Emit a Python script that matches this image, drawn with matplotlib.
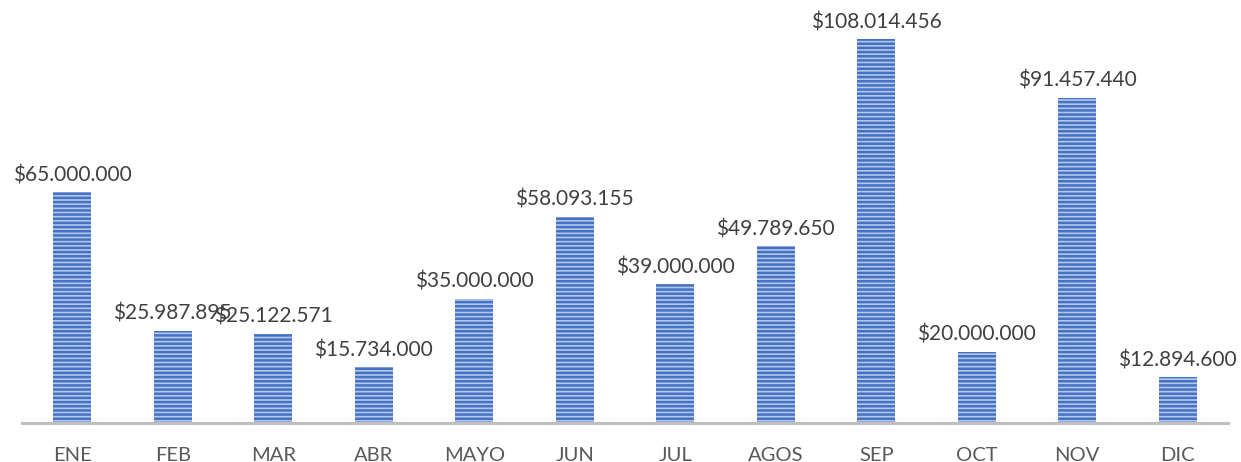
import matplotlib.pyplot as plt
import matplotlib as mpl

meses = ['ENE', 'FEB', 'MAR', 'ABR', 'MAYO', 'JUN', 'JUL', 'AGOS', 'SEP', 'OCT', 'NOV', 'DIC']
valores = [65000000, 25987895, 25122571, 15734000, 35000000, 58093155,
           39000000, 49789650, 108014456, 20000000, 91457440, 12894600]
etiquetas = ['$65.000.000', '$25.987.895', '$25.122.571', '$15.734.000', '$35.000.000',
             '$58.093.155', '$39.000.000', '$49.789.650', '$108.014.456', '$20.000.000',
             '$91.457.440', '$12.894.600']

mpl.rcParams['hatch.linewidth'] = 1.8
mpl.rcParams['hatch.color'] = '#4472C4'
plt.rcParams['font.family'] = ['Lato', 'DejaVu Sans']

fig = plt.figure(figsize=(12.41, 4.62), dpi=100)
ax = fig.add_axes([22 / 1241, 39 / 462, 1206 / 1241, 423 / 462])

x = range(len(meses))
bars = ax.bar(x, valores, width=0.38, color='#b4c7ea', edgecolor='#4472C4',
              hatch='----', linewidth=0)

for b, t in zip(bars, etiquetas):
    ax.annotate(t, (b.get_x() + b.get_width() / 2, b.get_height()),
                xytext=(0, 5), textcoords='offset points', ha='center', va='bottom',
                fontsize=15, color='#404040')

ax.set_xlim(-0.5, len(meses) - 0.5)
ax.set_ylim(0, 119e6)
ax.set_xticks(list(x))
ax.set_xticklabels(meses, fontsize=14.5, color='#595959')
ax.tick_params(axis='x', length=0, pad=17)
ax.set_yticks([])
for s in ['top', 'right', 'left']:
    ax.spines[s].set_visible(False)
ax.spines['bottom'].set_color('#BFBFBF')
ax.spines['bottom'].set_linewidth(2.2)

fig.savefig('out.png', dpi=100)
